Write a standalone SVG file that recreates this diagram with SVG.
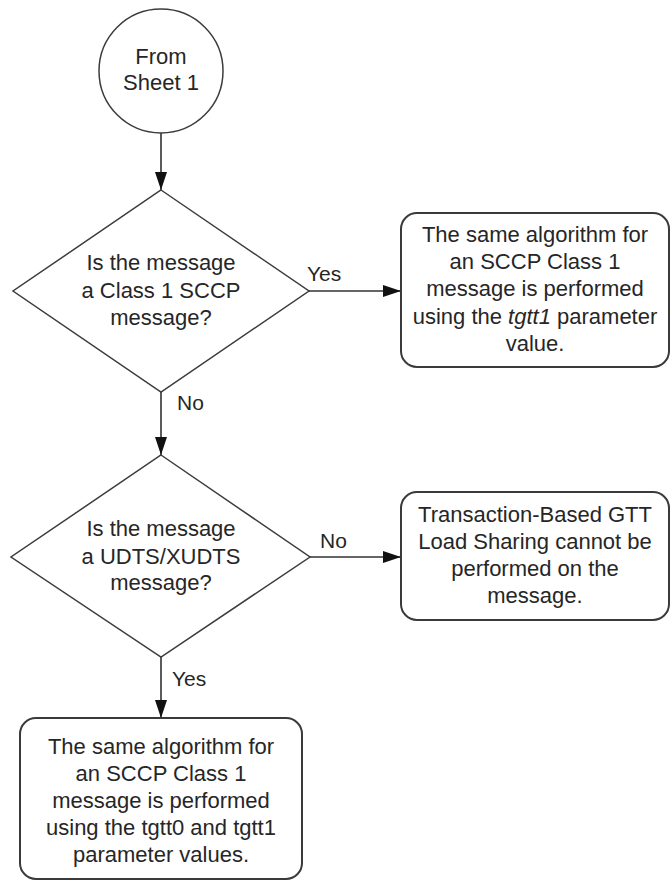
<svg xmlns="http://www.w3.org/2000/svg" width="671" height="881" viewBox="0 0 671 881">
<style>
.shape{fill:#ffffff;stroke:#3c3c3c;stroke-width:1.5}
.box{fill:#ffffff;stroke:#3a3a3a;stroke-width:2}
.t{font-family:"Liberation Sans",Arial,sans-serif;font-size:22px;fill:#262626;text-anchor:middle}
.lbl{font-family:"Liberation Sans",Arial,sans-serif;font-size:21px;fill:#262626}
.conn{stroke:#333333;stroke-width:1.6;fill:none;marker-end:url(#arr)}
</style>
<defs>
<marker id="arr" viewBox="0 0 18 12" refX="18" refY="6" markerWidth="18" markerHeight="12" markerUnits="userSpaceOnUse" orient="auto">
<path d="M0,0 L18,6 L0,12 z" fill="#111111"/>
</marker>
</defs>
<rect width="671" height="881" fill="#ffffff"/>
<g id="connectors">
<line class="conn" x1="161" y1="133" x2="161" y2="190"/>
<line class="conn" x1="309" y1="291" x2="401" y2="291"/>
<line class="conn" x1="161" y1="392" x2="161" y2="455"/>
<line class="conn" x1="310" y1="557" x2="401" y2="557"/>
<line class="conn" x1="161" y1="657" x2="161" y2="718"/>
<text class="lbl" x="307" y="281">Yes</text>
<text class="lbl" x="177" y="410">No</text>
<text class="lbl" x="320" y="548">No</text>
<text class="lbl" x="172" y="686">Yes</text>
</g>
<g id="start">
<circle class="shape" cx="161" cy="71" r="62"/>
<text class="t" x="161" y="64">From</text>
<text class="t" x="161" y="90">Sheet 1</text>
</g>
<g id="decision1">
<polygon class="shape" points="161,190 309,291 161,392 13,291"/>
<text class="t" x="161" y="270">Is the message</text>
<text class="t" x="161" y="298">a Class 1 SCCP</text>
<text class="t" x="161" y="325">message?</text>
</g>
<g id="box1">
<rect class="box" x="401" y="213" width="268" height="154" rx="16"/>
<text class="t" x="535" y="242">The same algorithm for</text>
<text class="t" x="535" y="269">an SCCP Class 1</text>
<text class="t" x="535" y="296">message is performed</text>
<text class="t" x="535" y="324">using the <tspan font-style="italic">tgtt1</tspan> parameter</text>
<text class="t" x="535" y="351">value.</text>
</g>
<g id="decision2">
<polygon class="shape" points="161,455 310,557 161,657 11,557"/>
<text class="t" x="161" y="536">Is the message</text>
<text class="t" x="161" y="564">a UDTS/XUDTS</text>
<text class="t" x="161" y="590">message?</text>
</g>
<g id="box2">
<rect class="box" x="401" y="492" width="268" height="128" rx="16"/>
<text class="t" x="535" y="522">Transaction-Based GTT</text>
<text class="t" x="535" y="549">Load Sharing cannot be</text>
<text class="t" x="535" y="576">performed on the</text>
<text class="t" x="535" y="603">message.</text>
</g>
<g id="box3">
<rect class="box" x="20" y="718" width="282" height="161" rx="16"/>
<text class="t" x="161" y="754">The same algorithm for</text>
<text class="t" x="161" y="781">an SCCP Class 1</text>
<text class="t" x="161" y="808">message is performed</text>
<text class="t" x="161" y="835">using the tgtt0 and tgtt1</text>
<text class="t" x="161" y="862">parameter values.</text>
</g>
</svg>
